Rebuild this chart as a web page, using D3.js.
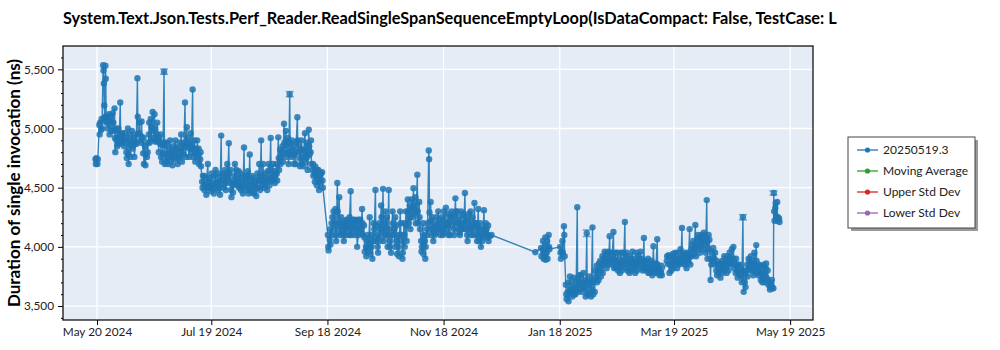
<!DOCTYPE html>
<html><head><meta charset="utf-8">
<script src="https://cdn.jsdelivr.net/npm/d3@7"></script>
<style>body{margin:0;background:#fff;} svg{display:block;font-family:Lato,'Open Sans',sans-serif;}</style>
</head><body><svg id="c" width="1000" height="350"></svg>
<script>
const chartTitle = "System.Text.Json.Tests.Perf_Reader.ReadSingleSpanSequenceEmptyLoop(IsDataCompact: False, TestCase: L";
const yAxisTitle = "Duration of single invocation (ns)";
const legendLabels = ["20250519.3", "Moving Average", "Upper Std Dev", "Lower Std Dev"];
const legendColors = ["#1f77b4", "#2ca02c", "#d62728", "#9467bd"];
const baseDate = "2024-05-20";
const xDomain = ["2024-05-02T03:00", "2025-05-31T00:00"];
const yDomain = [3382, 5697];
const xTickDates = ["2024-05-20", "2024-07-19", "2024-09-18", "2024-11-18", "2025-01-18", "2025-03-19", "2025-05-19"];
const yTickValues = [3500, 4000, 4500, 5000, 5500];
const yMinorStep = 100;

// days since baseDate at which each block of consecutive daily runs begins
const segmentStartDays = [-1, 121, 230, 233, 243, 299];
// measured durations (ns), one inner list per day
const segmentRuns = [
 [ // days -1 .. 118
  [4740,4700,4750],[4700,4740],[5030,4950,5050],[4990,5080,5000],[5535,5490,5380,5195,5085],[5100,5530,5420,5050],
  [5060,5100,5000],[5120,5060,4950],[5110,5050,4980],[5130,4980,5050],[5170,4920,4800,5000],[4900,4990,4850],
  [5000,4920,4870],[5220,4950,4890],[4960,4880,4940],[4850,4960,4900],[4920,4800,4750],[5000,4780,4700],
  [4950,4870,4760],[4900,4980,4830],[4860,4920,4760],[4880,4950,4870],[5425,5100,4950],[4960,5050,4900],
  [4880,5060,4930],[4790,4920,4700],[4850,4690,4780],[4760,4880,4800],[4950,5050,4880],[5080,4900,5010],
  [5140,4980,4920],[5120,5000,4890],[4890,4950,5050],[4920,4800,4900],[4870,4950,4760],[4720,4860,4790],
  [5480,4880,4700],[4780,4880,4720],[4850,4700,4760],[4800,4900,4760],[4740,4820,4690],[4850,4740,4800],
  [4900,4760,4840],[4830,4700,4750],[4760,4880,4800],[4950,4800,4720],[4880,4780,4840],[5220,4860,4760],
  [5010,4850,4920],[4880,4760,4830],[4960,4800,4850],[5330,4840,4760],[4900,4800,4720],[4830,4760,4900],
  [4780,4830,4700],[4740,4800,4680],[4550,4500,4600],[4600,4480,4520],[4520,4440,4580],[4700,4550,4500],
  [4500,4580,4470],[4620,4520,4490],[4540,4450,4600],[4650,4530,4500],[4550,4620,4480],[4500,4560,4440],
  [4940,4600,4530],[4560,4500,4620],[4650,4540,4480],[4600,4700,4560],[4875,4620,4540],[4650,4480,4420],
  [4520,4460,4560],[4600,4700,4540],[4650,4520,4580],[4560,4640,4500],[4620,4540,4480],[4500,4580,4450],
  [4840,4600,4520],[4550,4480,4600],[4640,4500,4450],[4780,4560,4480],[4520,4600,4460],[4580,4450,4520],
  [4500,4560,4430],[4620,4500,4560],[4700,4560,4480],[4900,4600,4520],[4700,4560,4500],[4620,4520,4580],
  [4560,4480,4640],[4700,4580,4520],[4920,4650,4560],[4600,4700,4560],[4640,4540,4600],[4700,4620,4560],
  [4925,4750,4650],[4820,4700,4760],[4800,4850,4720],[5040,4880,4790],[4980,4860,4760],[4920,4800,4700],
  [5290,4880,4780],[4760,4900,4820],[4850,4700,4780],[4800,4700,4880],[5095,4900,4800],[4850,4750,4680],
  [4820,4900,4700],[4760,4680,4820],[4960,4800,4720],[4880,4760,4650],[4990,4850,4780],[4800,4900,4700],
  [4650,4700,4600],[4620,4550,4680],[4600,4520,4650],[4650,4560,4480],[4600,4540,4620],[4630,4560,4500]
 ],
 [ // days 121 .. 207
  [4100,4000,3970],[4060,4150,4020],[4200,4100,4250],[4300,4150,4200],[4320,4100,4050],[4540,4300,4150],
  [4420,4200,4100],[4250,4120,4180],[4100,4200,4050],[4150,4220,4100],[4230,4150,4180],[4200,4100,4250],
  [4470,4150,4100],[4200,4230,4150],[4180,4100,4230],[4220,4150,4000],[4100,4230,4180],[4230,4150,4120],
  [4320,4200,4100],[4180,4080,3960],[4000,3920,4050],[4100,3960,4000],[4250,4050,3940],[4000,4100,3900],
  [4200,4050,4150],[4480,4180,4050],[4100,4000,3950],[4200,4150,4050],[4350,4250,4100],[4490,4150,4050],
  [4200,4300,4100],[4250,4100,4000],[4480,4150,4000],[4050,3950,4100],[4300,4200,4100],[4150,4000,4250],
  [4180,4050,3940],[4100,4000,3920],[4300,4200,4100],[4050,3900,3950],[4200,4100,4000],[4300,4180,4050],
  [4400,4300,4200],[4350,4250,4150],[4400,4330,4250],[4495,4350,4280],[4420,4200,4300],[4610,4300,4200],
  [4380,4250,4150],[4050,3960,4000],[4200,3940,4100],[4050,3900,4000],[4150,4100,4200],[4815,4740,4290,4150],
  [4380,4220,4100],[4250,4150,4050],[4200,4100,4150],[4120,4250,4180],[4300,4150,4200],[4150,4100,4230],
  [4250,4150,4100],[4300,4180,4120],[4330,4200,4150],[4200,4280,4100],[4220,4100,4260],[4300,4180,4250],
  [4260,4150,4100],[4410,4300,4200],[4300,4200,4150],[4250,4120,4100],[4300,4150,4200],[4200,4280,4150],
  [4455,4250,4150],[4230,4100,4050],[4200,4280,4150],[4300,4150,4100],[4250,4180,4100],[4370,4200,4150],
  [4200,4100,4050],[4320,4150,4050],[4200,4100,4000],[4150,4050,4100],[4310,4150,4100],[4200,4080,4150],
  [4100,4180,4050],[4090],[4100]
 ],
 [ // day 230
  [3955]
 ],
 [ // days 233 .. 237
  [3990,3920],[4050,3950,3900],[4000,4080,3890],[3950,4050,3900],[4100,4000,3980]
 ],
 [ // days 243 .. 296
  [4000,3950,3900],[3960,4050,3950],[4175,4100,3920],[3680,3600,3560],[3620,3700,3540],[3600,3750,3640],
  [3700,3620,3580],[3650,3740,3600],[3600,3680,3640],[4335,3720,3620],[3700,3760,3650],[3760,3680,3620],
  [3700,3780,3650],[3650,3720,3580],[4115,3700,3600],[3600,3680,3750],[3700,3580,3640],[4165,3700,3600],
  [3720,3620,3800],[3750,3840,3700],[3800,3720,3860],[3880,3800,3750],[3850,3920,3780],[3900,3850,3960],
  [3940,3880,3820],[3900,3960,3850],[4090,3950,3870],[3900,3850,3950],[4125,3900,3820],[3950,3880,3820],
  [3870,3950,3800],[3900,3840,3780],[3950,3860,3800],[3880,3950,3850],[4210,3900,3820],[3950,3880,3800],
  [3850,3920,3780],[3900,3800,3860],[3960,3880,3820],[3900,3840,3780],[3850,3950,3800],[3920,3850,3900],
  [3880,3960,3820],[3900,3850,3800],[4075,3880,3820],[3850,3800,3880],[3820,3900,3780],[3850,3780,3820],
  [3880,3800,3760],[4005,3850,3800],[3820,3780,3860],[4065,3850,3780],[3820,3760,3800],[3780,3840,3760]
 ],
 [ // days 299 .. 358
  [3880,3920],[3930,3850,3780],[3850,3920,3800],[3880,3940,3820],[3900,3860,3950],[3870,3900,3820],
  [3950,3880,3850],[3900,3980,3860],[4160,3920,3870],[3900,3950,3850],[3880,3940,3820],[3950,3900,3870],
  [4150,3920,3850],[3980,3920,4020],[4050,3980,3940],[4185,4000,3920],[4060,3980,4100],[4080,4020,3950],
  [4000,4100,4050],[4050,3980,4120],[4100,4020,3950],[4395,4050,3900],[4100,3980,4060],[3720,3900,3850],
  [3950,3880,3990],[3900,3850,3950],[3800,3880,3760],[3850,3780,3820],[3800,3740,3860],[3880,3780,3820],
  [3850,3920,3800],[3900,3850,3780],[3920,3860,3800],[3950,3880,3850],[3900,3980,3860],[4000,3900,3820],
  [3850,3780,3900],[3800,3740,3850],[3780,3850,3760],[3820,3750,3700],[4250,3800,3620],[3700,3780,3660],
  [3800,3850,3750],[3900,3820,3880],[3850,3920,3800],[3880,3800,3760],[3950,3850,3800],[4015,3880,3780],
  [3820,3760,3850],[3780,3840,3720],[3800,3700,3760],[3850,3760,3700],[3820,3860,3740],[3800,3720,3680],
  [3700,3640,3660],[3680,3720,3650],[3650,4455,4300,4220],[4330,4370,4260],[4380,4220,4250],[4240,4210]
 ]
];

// error bars visible on a few runs
const errorDays = [35, 101, 257, 339, 355];
const errorValues = [5480, 5290, 4115, 4250, 4455];
const errorSizes = [22, 22, 28, 22, 18];

const plot = {left: 63, right: 813, top: 46, bottom: 320};
const svg = d3.select("#c");
const parse = d3.utcParse("%Y-%m-%d");
const parseT = d3.utcParse("%Y-%m-%dT%H:%M");
const base = parse(baseDate);

const x = d3.scaleUtc().domain(xDomain.map(parseT)).range([plot.left, plot.right]);
const y = d3.scaleLinear().domain(yDomain).range([plot.bottom, plot.top]);

const points = [];
segmentRuns.forEach((seg, si) => {
  seg.forEach((runs, di) => {
    const day = segmentStartDays[si] + di;
    runs.forEach((v, j) => {
      const t = new Date(base.getTime() + (day + 0.2 + j * 0.2) * 864e5);
      points.push({t, v});
    });
  });
});

svg.append("rect").attr("x", plot.left).attr("y", plot.top)
  .attr("width", plot.right - plot.left).attr("height", plot.bottom - plot.top)
  .attr("fill", "#e5ecf6");

const grid = svg.append("g");
xTickDates.map(parse).forEach(d => {
  grid.append("line").attr("x1", x(d)).attr("x2", x(d)).attr("y1", plot.top).attr("y2", plot.bottom)
    .attr("stroke", "#fff").attr("stroke-width", 1.3);
});
yTickValues.forEach(v => {
  grid.append("line").attr("x1", plot.left).attr("x2", plot.right).attr("y1", y(v)).attr("y2", y(v))
    .attr("stroke", "#fff").attr("stroke-width", 1.3);
});

svg.append("clipPath").attr("id", "clip").append("rect")
  .attr("x", plot.left).attr("y", plot.top).attr("width", plot.right - plot.left).attr("height", plot.bottom - plot.top);
const g = svg.append("g").attr("clip-path", "url(#clip)");

const color = legendColors[0];
g.append("path").datum(points)
  .attr("d", d3.line().x(d => x(d.t)).y(d => y(d.v)))
  .attr("fill", "none").attr("stroke", color).attr("stroke-width", 1.4).attr("stroke-opacity", 0.9);

errorDays.forEach((dd, i) => {
  const t = new Date(base.getTime() + (dd + 0.2) * 864e5);
  const xx = x(t), y1 = y(errorValues[i] + errorSizes[i]), y2 = y(errorValues[i] - errorSizes[i]);
  const eb = g.append("g").attr("stroke", color).attr("stroke-opacity", 0.6).attr("stroke-width", 1.5);
  eb.append("line").attr("x1", xx).attr("x2", xx).attr("y1", y1).attr("y2", y2);
  eb.append("line").attr("x1", xx - 4).attr("x2", xx + 4).attr("y1", y1).attr("y2", y1);
  eb.append("line").attr("x1", xx - 4).attr("x2", xx + 4).attr("y1", y2).attr("y2", y2);
});

g.selectAll("circle.pt").data(points).join("circle").attr("class", "pt")
  .attr("cx", d => x(d.t)).attr("cy", d => y(d.v)).attr("r", 3.2)
  .attr("fill", color).attr("fill-opacity", 0.85);

const xAxis = d3.axisBottom(x).tickValues(xTickDates.map(parse)).tickFormat(d3.utcFormat("%b %d %Y"))
  .tickSize(5).tickPadding(3);
const xg = svg.append("g").attr("transform", `translate(0,${plot.bottom})`).call(xAxis);
const yAxis = d3.axisLeft(y).tickValues(yTickValues).tickFormat(d3.format(",")).tickSize(5).tickPadding(4);
const yg = svg.append("g").attr("transform", `translate(${plot.left},0)`).call(yAxis);
const minor = d3.range(3400, 5700, yMinorStep).filter(v => !yTickValues.includes(v));
const yMinor = d3.axisLeft(y).tickValues(minor).tickFormat("").tickSize(2);
svg.append("g").attr("transform", `translate(${plot.left},0)`).call(yMinor).select(".domain").remove();
[xg, yg].forEach(a => {
  a.selectAll("text").attr("font-size", 11.8).attr("fill", "#222").attr("font-family", "Lato,'Open Sans',sans-serif");
  a.selectAll(".domain").remove();
});
svg.selectAll("g.tick line").attr("stroke", "#000");

svg.append("rect").attr("x", plot.left).attr("y", plot.top)
  .attr("width", plot.right - plot.left).attr("height", plot.bottom - plot.top)
  .attr("fill", "none").attr("stroke", "#000").attr("stroke-width", 1.2);

svg.append("text").attr("x", plot.left).attr("y", 24).text(chartTitle)
  .attr("font-weight", "bold").attr("font-size", 16.3).attr("fill", "#000");
svg.append("text").attr("transform", `translate(20,${(plot.top + plot.bottom) / 2}) rotate(-90)`)
  .attr("text-anchor", "middle").text(yAxisTitle)
  .attr("font-weight", "bold").attr("font-size", 17).attr("fill", "#000");

const lg = svg.append("g").attr("transform", "translate(848,137)");
lg.append("rect").attr("x", 3).attr("y", 3).attr("width", 127).attr("height", 91).attr("fill", "#9a9a9a");
lg.append("rect").attr("x", 0).attr("y", 0).attr("width", 127).attr("height", 91).attr("fill", "#fff")
  .attr("stroke", "#444").attr("stroke-width", 1);
legendLabels.forEach((lab, i) => {
  const yy = 13 + i * 21;
  lg.append("line").attr("x1", 9).attr("x2", 30).attr("y1", yy).attr("y2", yy)
    .attr("stroke", legendColors[i]).attr("stroke-width", 1.3);
  lg.append("circle").attr("cx", 19.5).attr("cy", yy).attr("r", 2.6).attr("fill", legendColors[i]);
  lg.append("text").attr("x", 35).attr("y", yy + 4).text(lab).attr("font-size", 12).attr("fill", "#222");
});
</script>
</body></html>
